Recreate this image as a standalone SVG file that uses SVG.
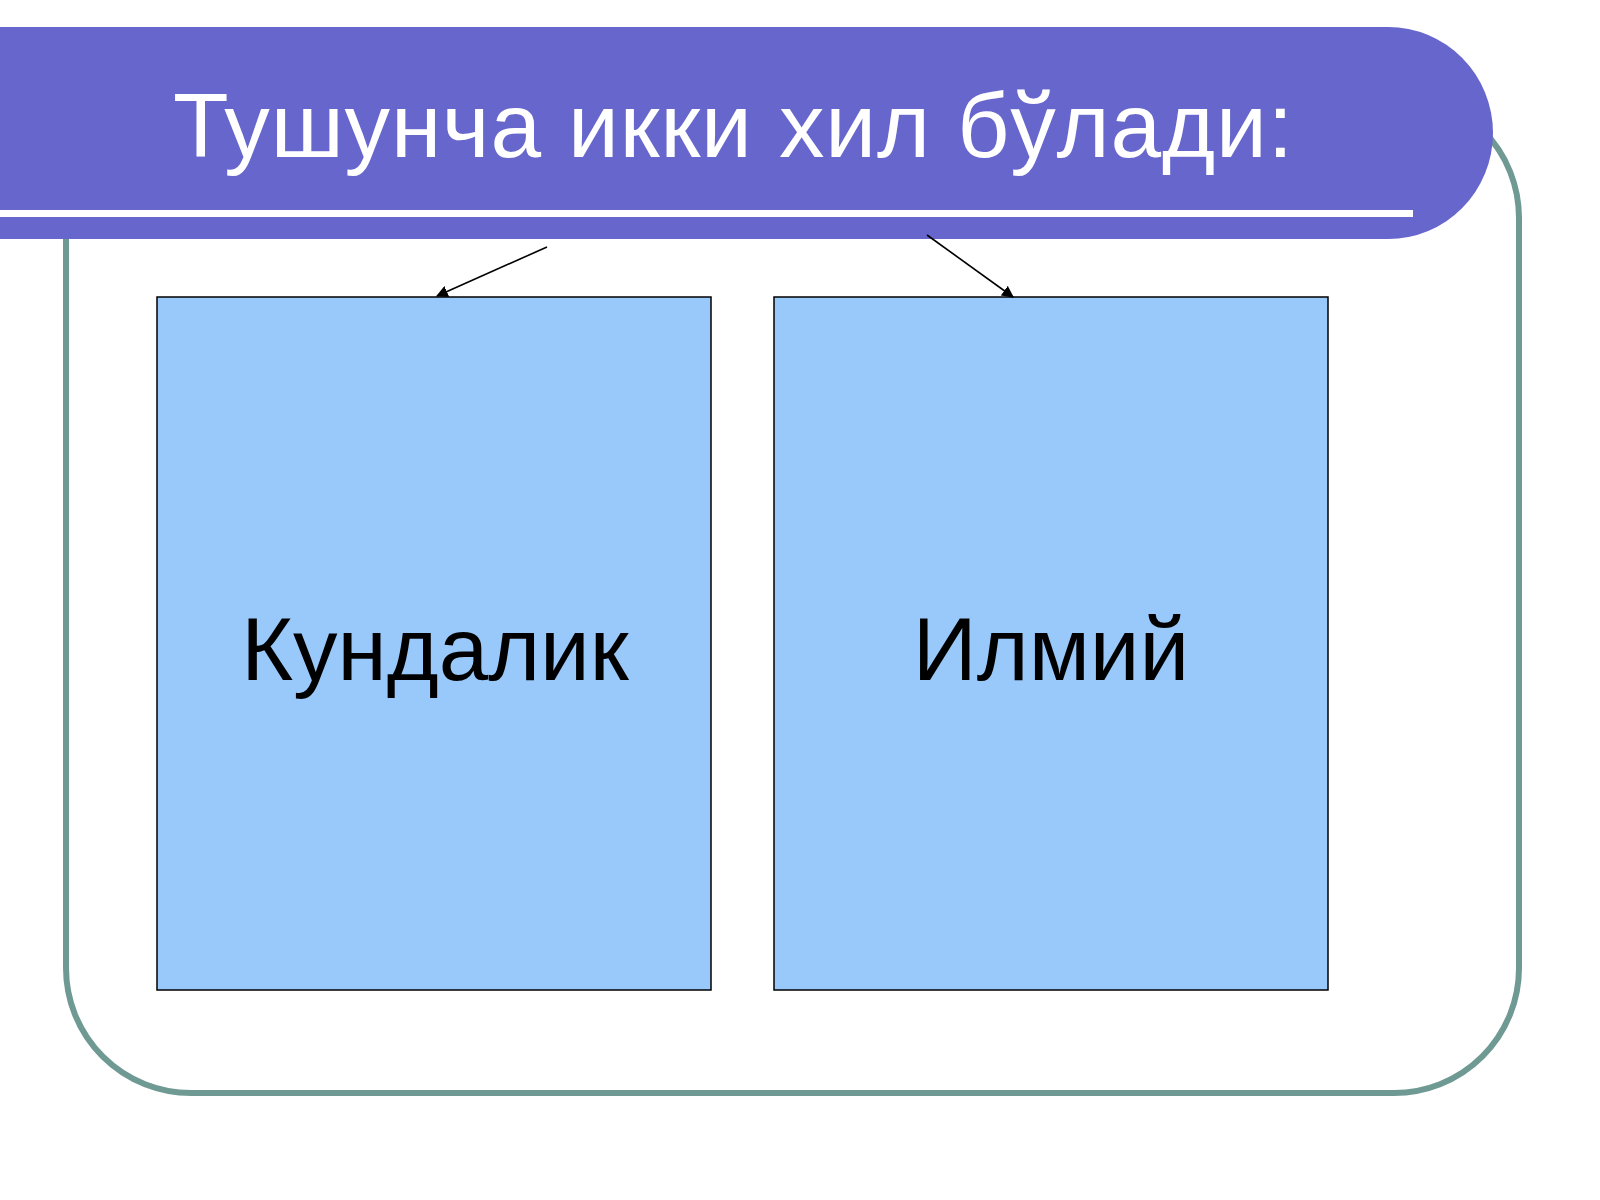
<svg xmlns="http://www.w3.org/2000/svg" width="1600" height="1200" viewBox="0 0 1600 1200">
  <style>
    .title { font-family: "Liberation Sans", Arial, sans-serif; font-size: 91px; fill: #ffffff; }
    .label { font-family: "Liberation Sans", Arial, sans-serif; font-size: 89px; fill: #000000; }
    .box { fill: #99c9fb; stroke: #000000; stroke-width: 1.5; }
    .conn { stroke: #000000; stroke-width: 1.6; fill: none; marker-end: url(#arrow); }
  </style>
  <defs>
    <marker id="arrow" viewBox="0 0 10 10" refX="9" refY="5" markerWidth="12" markerHeight="12" markerUnits="userSpaceOnUse" orient="auto">
      <path d="M0,0 L10,5 L0,10 z" fill="#000000"/>
    </marker>
  </defs>
  <rect width="1600" height="1200" fill="#ffffff"/>
  <g id="frame">
    <rect x="66" y="93" width="1453" height="1000" rx="125" ry="125" fill="none" stroke="#6f9a94" stroke-width="6"/>
  </g>
  <g id="header">
    <path d="M0,27 H1388 A105,106 0 0 1 1388,239 H0 Z" fill="#6666cc"/>
    <rect x="0" y="210" width="1413" height="7" fill="#ffffff"/>
    <text class="title" x="733" y="157" text-anchor="middle" textLength="1120" lengthAdjust="spacing">Тушунча икки хил бўлади:</text>
  </g>
  <g id="node-kundalik">
    <rect class="box" x="157" y="297" width="554" height="693"/>
    <text class="label" x="435" y="680" text-anchor="middle">Кундалик</text>
  </g>
  <g id="node-ilmiy">
    <rect class="box" x="774" y="297" width="554" height="693"/>
    <text class="label" x="1051" y="680" text-anchor="middle">Илмий</text>
  </g>
  <g id="connectors">
    <line class="conn" x1="547" y1="247" x2="437" y2="296"/>
    <line class="conn" x1="927" y1="235" x2="1013" y2="297"/>
  </g>
</svg>
